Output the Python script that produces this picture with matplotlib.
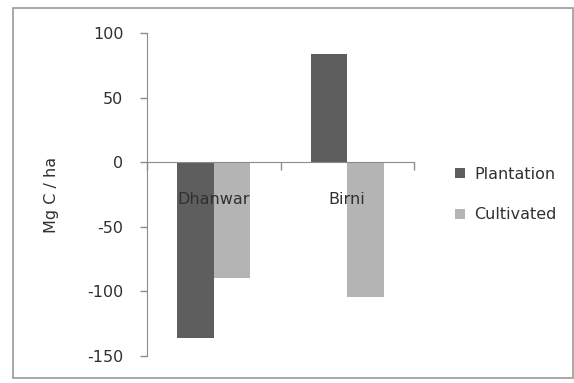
import matplotlib.pyplot as plt
from matplotlib.patches import Rectangle
import numpy as np

# data
sites = ["Dhanwar", "Birni"]
plantation = [-136, 84]
cultivated = [-90, -104]
y_ticks = [-150, -100, -50, 0, 50, 100]

dark = "#5e5e5e"
light = "#b4b4b4"
axis_col = "#8c8c8c"
text_col = "#303030"
fs = 11.5

fig = plt.figure(figsize=(5.74, 3.83), dpi=100)
ax = fig.add_axes([147 / 574, (383 - 356) / 383, (414 - 147) / 574, (356 - 33) / 383])

x = np.arange(len(sites))
w = 0.275
ax.bar(x - w / 2, plantation, w, color=dark, label="Plantation")
ax.bar(x + w / 2, cultivated, w, color=light, label="Cultivated")

ax.set_xlim(-0.5, len(sites) - 0.5)
ax.set_ylim(-150, 100)
ax.set_yticks(y_ticks)
ax.set_yticklabels([str(v) for v in y_ticks], fontsize=fs, color=text_col)
ax.tick_params(axis="y", direction="out", length=5, width=1, color=axis_col, pad=12)

# category axis sits on zero
ax.spines["bottom"].set_position(("data", 0))
ax.spines["bottom"].set_color(axis_col)
ax.spines["left"].set_color(axis_col)
ax.spines["top"].set_visible(False)
ax.spines["right"].set_visible(False)
ax.set_xticks(np.arange(len(sites) + 1) - 0.5)
ax.set_xticklabels([])
ax.tick_params(axis="x", direction="out", length=6, width=1, color=axis_col)

for i, s in enumerate(sites):
    ax.annotate(s, (x[i], 0), xytext=(0, -27), textcoords="offset points",
                ha="center", va="center", fontsize=fs, color=text_col)

ax.set_ylabel("Mg C / ha", fontsize=fs, color=text_col, labelpad=20)

ax.legend(loc="center left", bbox_to_anchor=(1.1, 0.5), frameon=False,
          fontsize=fs, handlelength=0.6, handleheight=0.6, handletextpad=0.6,
          labelspacing=1.6, labelcolor=text_col)

# outer chart border
fig.patches.append(Rectangle((13 / 574, 5 / 383), 560 / 574, 370 / 383,
                             transform=fig.transFigure, fill=False,
                             edgecolor="#9a9a9a", linewidth=1.2))

fig.savefig("out.png", dpi=100)
